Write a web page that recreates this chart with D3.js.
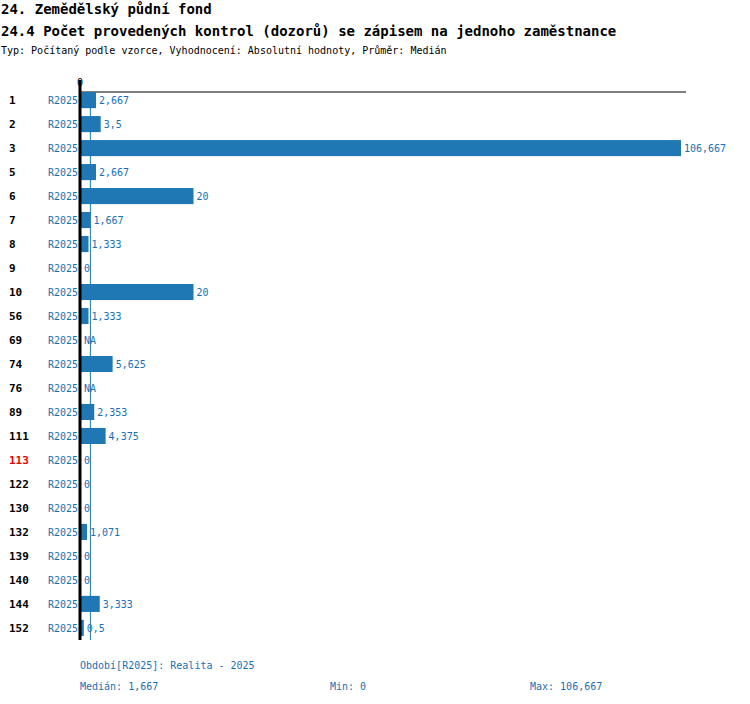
<!DOCTYPE html>
<html><head><meta charset="utf-8">
<script src="https://cdn.jsdelivr.net/npm/d3@7"></script>
<style>body{margin:0;background:#fff}text{font-family:"DejaVu Sans Mono",monospace}</style>
</head><body><div id="chart"></div>
<script>
var ids = ['1','2','3','5','6','7','8','9','10','56','69','74','76','89','111','113','122','130','132','139','140','144','152'];
var values = [2.667,3.5,106.667,2.667,20,1.667,1.333,0,20,1.333,null,5.625,null,2.353,4.375,0,0,0,1.071,0,0,3.333,0.5];
var highlight = ['113'];
var median = 1.667, minV = 0, maxV = 106.667;
var blue = '#1f77b4', txt = '#1a6fb4';

var svg = d3.select('#chart').append('svg').attr('width',750).attr('height',704);
var fmt = v => String(+v.toFixed(3)).replace('.', ',');

svg.append('text').attr('x',1).attr('y',14).attr('font-size',14).attr('font-weight','bold').text('24. Zemědělský půdní fond');
svg.append('text').attr('x',1).attr('y',36).attr('font-size',14).attr('font-weight','bold').text('24.4 Počet provedených kontrol (dozorů) se zápisem na jednoho zaměstnance');
svg.append('text').attr('x',1).attr('y',54).attr('font-size',10).text('Typ: Počítaný podle vzorce, Vyhodnocení: Absolutní hodnoty, Průměr: Medián');

var x = d3.scaleLinear().domain([0, maxV]).range([81, 681]);
var y = d3.scaleBand().domain(ids).range([88, 640]).paddingInner(0.33).paddingOuter(0.17);

svg.append('line').attr('x1',80).attr('x2',686).attr('y1',92).attr('y2',92).attr('stroke','#000');
svg.append('text').attr('x',80).attr('y',86).attr('font-size',10).attr('text-anchor','middle').text('0');

var rows = svg.selectAll('g.row').data(ids).enter().append('g')
  .attr('transform', d => `translate(0,${y(d)})`);
rows.append('text').attr('x',9).attr('y',y.bandwidth()/2+4).attr('font-size',11).attr('font-weight','bold')
  .attr('fill', d => highlight.includes(d) ? '#e00' : '#000').text(d => d);
rows.append('text').attr('x',78).attr('y',y.bandwidth()/2+4).attr('font-size',10).attr('text-anchor','end').attr('fill',txt).text('R2025');
rows.append('rect').attr('x',x(0)).attr('height',y.bandwidth()).attr('fill',blue)
  .attr('width', (d,i) => values[i] ? x(values[i]) - x(0) : 0);
rows.append('text').attr('y',y.bandwidth()/2+4).attr('font-size',10).attr('fill',txt)
  .attr('x', (d,i) => x(values[i] || 0) + 3)
  .text((d,i) => values[i] === null ? 'NA' : fmt(values[i]));

svg.append('line').attr('x1',x(median)).attr('x2',x(median)).attr('y1',92).attr('y2',640).attr('stroke',blue);
svg.append('line').attr('x1',80).attr('x2',80).attr('y1',80).attr('y2',640).attr('stroke','#000').attr('stroke-width',3);

svg.append('text').attr('x',80).attr('y',669).attr('font-size',10).attr('fill',txt).text('Období[R2025]: Realita - 2025');
svg.append('text').attr('x',80).attr('y',690).attr('font-size',10).attr('fill',txt).text('Medián: ' + fmt(median));
svg.append('text').attr('x',330).attr('y',690).attr('font-size',10).attr('fill',txt).text('Min: ' + fmt(minV));
svg.append('text').attr('x',530).attr('y',690).attr('font-size',10).attr('fill',txt).text('Max: ' + fmt(maxV));
</script></body></html>
